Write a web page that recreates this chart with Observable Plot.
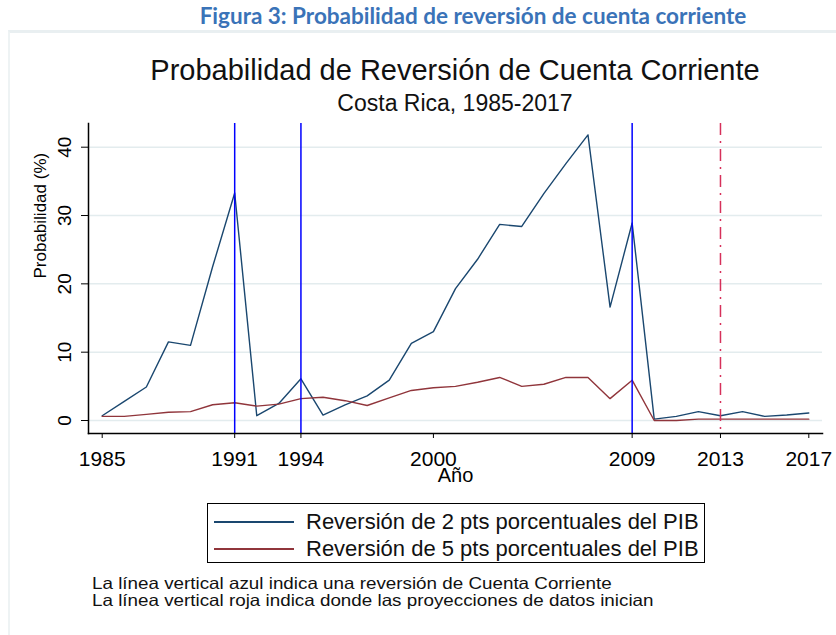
<!DOCTYPE html>
<html>
<head>
<meta charset="utf-8">
<script src="https://cdn.jsdelivr.net/npm/d3@7"></script>
<script src="https://cdn.jsdelivr.net/npm/@observablehq/plot@0.6"></script>
<style>
  html, body { margin: 0; padding: 0; background: #fff; }
  #page { position: relative; width: 836px; height: 635px; overflow: hidden; font-family: "Liberation Sans", Arial, sans-serif; color: #111; }
  #heading { position: absolute; left: 0; width: 946px; top: 2px; text-align: center; font-family: Lato, "Open Sans", sans-serif; font-weight: bold; font-size: 22.5px; color: #3a73b8; white-space: nowrap; }
  #frame { position: absolute; left: 8px; top: 30px; right: -4px; bottom: -4px; border-top: 3px solid #e9eff1; border-left: 2px solid #eef3f4; }
  #title { position: absolute; left: 0; width: 910px; top: 54px; text-align: center; font-size: 29px; white-space: nowrap; }
  #subtitle { position: absolute; left: 0; width: 910px; top: 90px; text-align: center; font-size: 23px; white-space: nowrap; }
  #chart { position: absolute; left: 0; top: 120px; }
  #legend { position: absolute; left: 207px; top: 503px; width: 496px; height: 58px; border: 1.5px solid #000; box-sizing: content-box; }
  .lrow { position: absolute; left: 0; height: 27px; display: flex; align-items: center; font-size: 22px; white-space: nowrap; }
  .lrow svg { margin-left: 6px; margin-right: 12px; }
  #notes { position: absolute; left: 92px; top: 575px; font-size: 16.5px; line-height: 17px; white-space: nowrap; transform: scaleX(1.14); transform-origin: left top; }
</style>
</head>
<body>
<div id="page">
  <div id="heading">Figura 3: Probabilidad de reversión de cuenta corriente</div>
  <div id="frame"></div>
  <div id="title">Probabilidad de Reversión de Cuenta Corriente</div>
  <div id="subtitle">Costa Rica, 1985-2017</div>
  <div id="chart"></div>
  <div id="legend"></div>
  <div id="notes"></div>
</div>
<script>
// ---- data ----
const years = [1985,1986,1987,1988,1989,1990,1991,1992,1993,1994,1995,1996,1997,1998,1999,2000,
               2001,2002,2003,2004,2005,2006,2007,2008,2009,2010,2011,2012,2013,2014,2015,2016,2017];
const rev2pts = [0.7,2.8,4.9,11.5,11.0,22.5,33.3,0.7,2.5,6.1,0.8,2.3,3.6,5.9,11.3,13.0,
                 19.3,23.6,28.7,28.4,33.2,37.6,41.8,16.6,28.9,0.2,0.6,1.3,0.7,1.3,0.6,0.8,1.1];
const rev5pts = [0.6,0.6,0.9,1.2,1.3,2.3,2.6,2.1,2.4,3.2,3.4,2.9,2.2,3.3,4.4,4.8,
                 5.0,5.6,6.3,5.0,5.3,6.3,6.3,3.2,5.9,0.0,0.0,0.2,0.2,0.2,0.2,0.2,0.2];
const reversalYears = [1991, 1994, 2009];
const projectionYears = [2013];
const xTicks = [1985, 1991, 1994, 2000, 2009, 2013, 2017];
const yTicks = [0, 10, 20, 30, 40];
const seriesNames = ["Reversión de 2 pts porcentuales del PIB", "Reversión de 5 pts porcentuales del PIB"];
const seriesColors = ["#1a476f", "#90353b"];
const yLabel = "Probabilidad (%)";
const xLabel = "Año";
const notes = ["La línea vertical azul indica una reversión de Cuenta Corriente",
               "La línea vertical roja indica donde las proyecciones de datos inician"];

// ---- build table ----
const seriesValues = [rev2pts, rev5pts];
const rows = seriesNames.flatMap((name, s) => years.map((yr, i) => ({year: yr, value: seriesValues[s][i], series: name})));

const chart = Plot.plot({
  width: 836,
  height: 370,
  marginLeft: 88,
  marginRight: 14,
  marginTop: 3,
  marginBottom: 57,
  x: {domain: [1985, 2017], range: [101.7, 808.3]},
  y: {domain: [0, 40], range: [300, 26.7]},
  color: {domain: seriesNames, range: seriesColors},
  style: {fontFamily: "'Liberation Sans', Arial, sans-serif", fontSize: "21px", color: "#000", background: "transparent", overflow: "visible"},
  marks: [
    Plot.gridY(yTicks, {stroke: "#e3ecee", strokeOpacity: 1, strokeWidth: 1.5}),
    Plot.lineY(rows, {x: "year", y: "value", stroke: "series", strokeWidth: 1.4}),
    Plot.ruleX(reversalYears, {stroke: "#0000ff", strokeWidth: 1.5}),
    Plot.ruleX(projectionYears, {stroke: "#d6305a", strokeWidth: 1.5, strokeDasharray: "12,6,2,6"}),
    Plot.frame({anchor: "left", stroke: "#000", strokeWidth: 1.5}),
    Plot.frame({anchor: "bottom", stroke: "#000", strokeWidth: 1.5}),
    Plot.axisX({ticks: xTicks, tickFormat: d => String(d), tickSize: 5, tickPadding: 13, label: null, fontSize: 21}),
    Plot.axisY({ticks: yTicks, tickSize: 7, tickRotate: -90, tickPadding: 11, label: null, fontSize: 19}),
    Plot.text([yLabel], {text: d => d, frameAnchor: "left", rotate: -90, dx: -48, fontSize: 17}),
    Plot.text([xLabel], {text: d => d, frameAnchor: "bottom", dy: 48, fontSize: 20})
  ]
});
document.getElementById("chart").appendChild(chart);

// ---- legend ----
const legend = document.getElementById("legend");
seriesNames.forEach((name, i) => {
  const row = document.createElement("div");
  row.className = "lrow";
  row.style.top = (4 + i * 27) + "px";
  row.innerHTML = `<svg width="80" height="4"><line x1="0" x2="80" y1="2" y2="2" stroke="${seriesColors[i]}" stroke-width="1.8"/></svg><span>${name}</span>`;
  legend.appendChild(row);
});

// ---- notes ----
document.getElementById("notes").innerHTML = notes.map(n => `<div>${n}</div>`).join("");
</script>
</body>
</html>
